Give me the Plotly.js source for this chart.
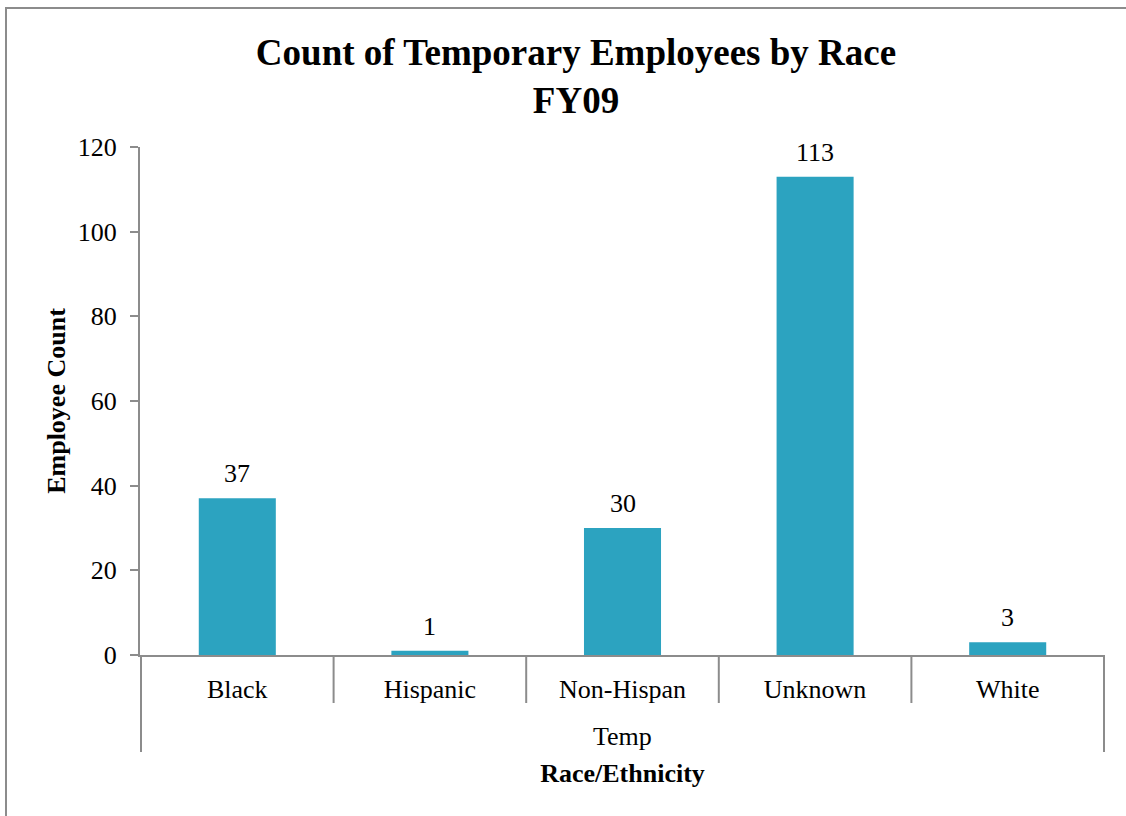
<!DOCTYPE html>
<html>
<head>
<meta charset="utf-8">
<script src="https://cdn.plot.ly/plotly-3.0.1.min.js"></script>
<style>
html,body{margin:0;padding:0;background:#fff;}
#wrap{position:relative;width:1126px;height:816px;overflow:hidden;}
#frame{position:absolute;left:5px;top:7px;width:1200px;height:900px;border-left:2px solid #8c8c8c;border-top:2px solid #8c8c8c;pointer-events:none;}
#chart{position:absolute;left:0;top:0;width:1126px;height:816px;}
</style>
</head>
<body>
<div id="wrap"><div id="chart"></div><div id="frame"></div></div>
<script>
const categories = ["Black", "Hispanic", "Non-Hispan", "Unknown", "White"];
const counts = [37, 1, 30, 113, 3];
const groupLabel = "Temp";
const yTicks = [0, 20, 40, 60, 80, 100, 120];

const FONT = "'Liberation Serif', 'Times New Roman', serif";
const GRAY = "#8c8c8c";
const plotHeight = 816 - 147 - 161;

const shapes = [];
// separators between categories (boundaries), short
for (let i = 1; i < categories.length; i++) {
  shapes.push({type: "line", xref: "x", yref: "paper", x0: i - 0.5, x1: i - 0.5,
    y0: 0, y1: -48 / plotHeight, line: {color: GRAY, width: 2}});
}
// outer edges, long
[-0.5, categories.length - 0.5].forEach(b => {
  shapes.push({type: "line", xref: "x", yref: "paper", x0: b, x1: b,
    y0: 0, y1: -97 / plotHeight, line: {color: GRAY, width: 2}});
});

const annotations = categories.map((c, i) => ({
  x: c, y: counts[i], xref: "x", yref: "y", text: String(counts[i]),
  showarrow: false, yanchor: "bottom", yshift: 8,
  font: {family: FONT, size: 26, color: "#000"}
}));
annotations.push({
  xref: "paper", yref: "paper", x: 0.5, y: -81 / plotHeight, yanchor: "middle",
  text: groupLabel, showarrow: false, font: {family: FONT, size: 26, color: "#000"}
});

const data = [{
  type: "bar", x: categories, y: counts,
  marker: {color: "#2CA3C0"}, width: 0.4, hoverinfo: "x+y"
}];

const layout = {
  width: 1126, height: 816,
  margin: {l: 140, r: 21, t: 147, b: 161},
  paper_bgcolor: "rgba(0,0,0,0)", plot_bgcolor: "rgba(0,0,0,0)",
  showlegend: false,
  font: {family: FONT, color: "#000"},
  title: {
    text: "<b>Count of Temporary Employees by Race<br>FY09</b>",
    font: {family: FONT, size: 37, color: "#000"},
    xref: "container", x: 576 / 1126, xanchor: "center",
    yref: "container", y: 1 - 65 / 816, yanchor: "top"
  },
  xaxis: {
    type: "category",
    showline: true, linecolor: GRAY, linewidth: 2,
    ticks: "", showgrid: false, zeroline: false,
    tickfont: {family: FONT, size: 26, color: "#000"},
    ticklabelstandoff: 10,
    automargin: false,
    title: {text: "<b>Race/Ethnicity</b>", font: {family: FONT, size: 26, color: "#000"}, standoff: 61}
  },
  yaxis: {
    range: [0, 120], tickvals: yTicks,
    showline: true, linecolor: GRAY, linewidth: 2,
    ticks: "outside", ticklen: 8, tickcolor: GRAY, tickwidth: 2,
    showgrid: false, zeroline: false,
    tickfont: {family: FONT, size: 26, color: "#000"},
    ticklabelstandoff: 8,
    automargin: false,
    title: {text: "<b>Employee Count</b>", font: {family: FONT, size: 26, color: "#000"}, standoff: 5}
  },
  bargap: 0.6,
  shapes: shapes,
  annotations: annotations
};

Plotly.newPlot("chart", data, layout, {displayModeBar: false, staticPlot: true});
</script>
</body>
</html>
